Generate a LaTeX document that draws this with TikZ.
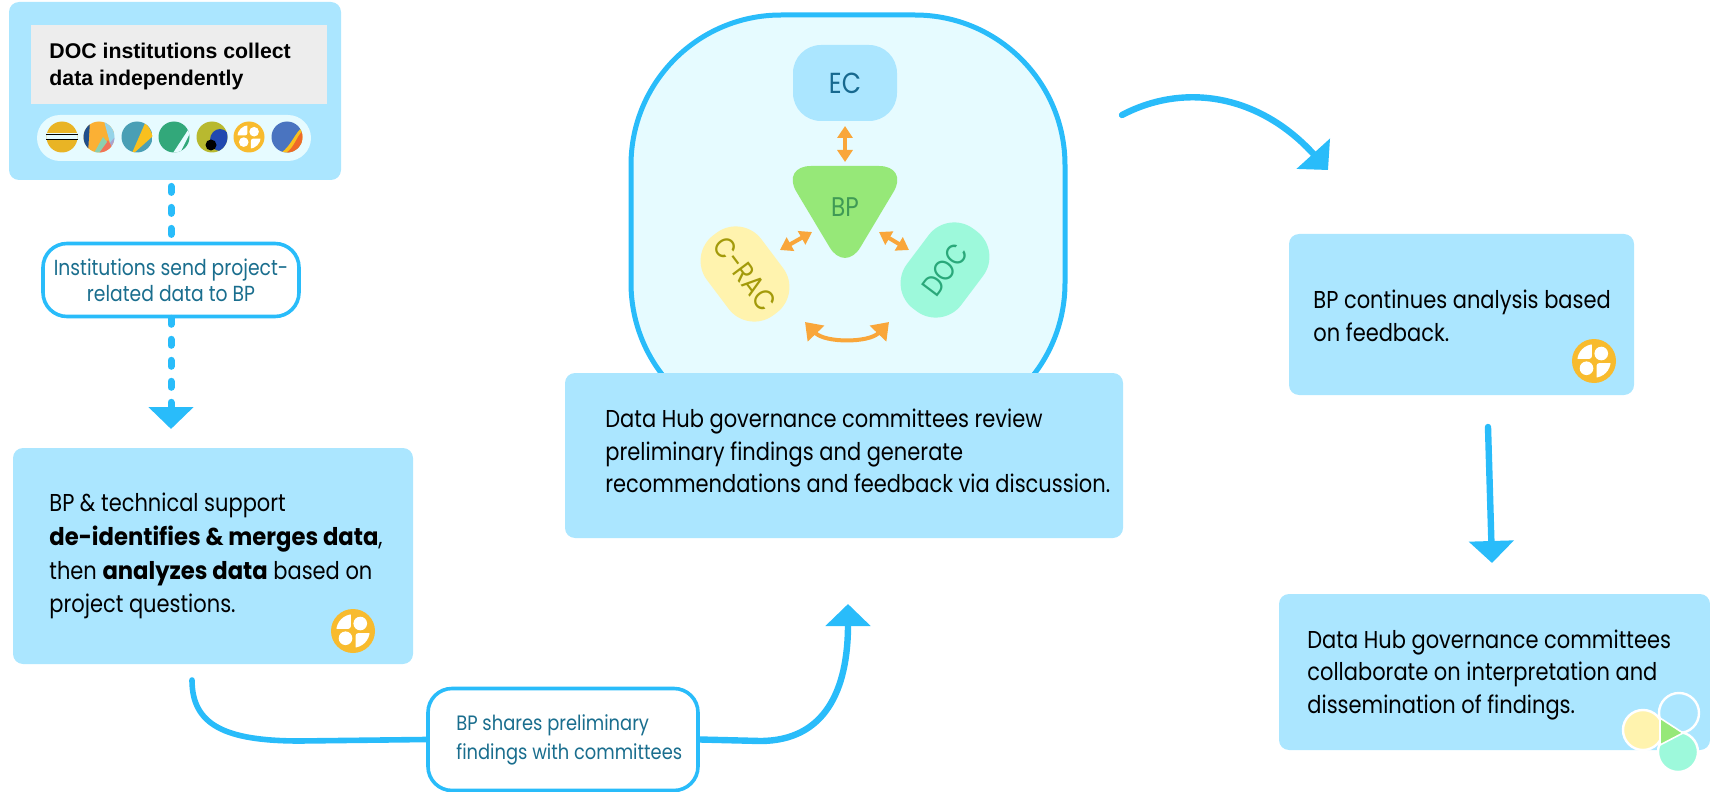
\documentclass[tikz,border=0pt]{standalone}
\usepackage{fontspec}
\setmainfont{Liberation Sans}
\newfontfamily\fu[FakeStretch=0.86,BoldFeatures={FakeStretch=0.93}]{Poppins}
\usetikzlibrary{arrows.meta}
\definecolor{boxblue}{HTML}{ABE6FF}
\definecolor{linblue}{HTML}{29BCFA}
\definecolor{pale}{HTML}{E6FBFF}
\definecolor{tealtx}{HTML}{1A6E8E}
\definecolor{orng}{HTML}{F9A63A}
\definecolor{ylw}{HTML}{F8BB2E}
\definecolor{yelbox}{HTML}{FFF3AE}
\definecolor{mint}{HTML}{9DF9DB}
\definecolor{grn}{HTML}{96E878}
\definecolor{iA}{HTML}{E9B425}
\definecolor{iB}{HTML}{FBB034}
\definecolor{iBn}{HTML}{1F4E8C}
\definecolor{iBl}{HTML}{96D4E8}
\definecolor{iBv}{HTML}{A9A3D0}
\definecolor{iBr}{HTML}{F0725A}
\definecolor{iBg}{HTML}{8CCFB0}
\definecolor{iC}{HTML}{4A9FB5}
\definecolor{iCy}{HTML}{F9C01E}
\definecolor{iD}{HTML}{32A87A}
\definecolor{iE}{HTML}{B8B92F}
\definecolor{iEb}{HTML}{2149B0}
\definecolor{iF}{HTML}{4A74C0}
\definecolor{iFo}{HTML}{EE6A28}
\definecolor{txec}{HTML}{17698F}
\definecolor{txbp}{HTML}{3F9A55}
\definecolor{txcr}{HTML}{A39A0A}
\definecolor{txdo}{HTML}{2AA87A}
\tikzset{
  bluebox/.style={rectangle,fill=boxblue,rounded corners=5pt,inner sep=0pt},
  outl/.style={rectangle,draw=linblue,line width=1.8pt,fill=white,rounded corners=12pt,inner sep=0pt},
  body/.style={anchor=west,align=left,inner sep=0pt,text=black,font=\fu\fontsize{12.2}{16.2}\selectfont},
  lab/.style={inner sep=0pt,align=center,text=tealtx,font=\fu\fontsize{10.4}{14.2}\selectfont},
  cnode/.style={rectangle,rounded corners=16pt,inner sep=0pt},
  ctext/.style={font=\fu\fontsize{14.5}{16}\selectfont},
  flow/.style={draw=linblue,line width=3.2pt,line cap=round,-{Triangle[length=11pt,width=22pt]}},
  oarrow/.style={draw=orng,line width=2pt,{Triangle[length=6pt,width=7.5pt]}-{Triangle[length=6pt,width=7.5pt]}},
  oarc/.style={draw=orng,line width=2pt,{Triangle[length=8pt,width=11pt]}-{Triangle[length=8pt,width=11pt]}},
}
\newcommand\clover[3]{%
  \begin{scope}[shift={(#1,#2)}]
    \fill[ylw] (0,0) circle (#3);
    \begin{scope}
      \clip (0,0) circle ({0.76*#3});
      \fill[white,rounded corners=1.2pt] ({-#3},{-#3}) rectangle ({-0.1*#3},{-0.1*#3});
      \fill[white,rounded corners=1.2pt] ({0.12*#3},{0.1*#3}) rectangle ({#3},{#3});
    \end{scope}
    \fill[white] ({0.33*#3},{-0.34*#3}) circle ({0.31*#3});
    \fill[white] ({-0.34*#3},{0.33*#3}) circle ({0.31*#3});
  \end{scope}}
\begin{document}
\begin{tikzpicture}[x=0.5pt,y=-0.5pt]
\useasboundingbox (0,0) rectangle (1710,792);
% top-left box
\node[bluebox,minimum width=166pt,minimum height=89pt] (box1) at (175,91) {};
\node[rectangle,fill=black!7,minimum width=148pt,minimum height=39.5pt,inner sep=0pt] (grey) at (179,64.5) {};
\node[anchor=west,align=left,inner sep=0pt,font=\bfseries\fontsize{10.65}{13.5}\selectfont] (t1) at (49,66) {DOC institutions collect\\data independently};
\node[rectangle,fill=pale,rounded corners=11.5pt,minimum width=137pt,minimum height=23pt,inner sep=0pt] (pill) at (174,138) {};
% institution icons
\begin{scope}
 \clip (62,137) circle (15.5);
 \fill[iA] (46,121) rectangle (78,153);
 \fill[pale] (46,133.5) rectangle (78,140.5);
\end{scope}
\draw[black,line width=0.8pt] (46,134.5) -- (78,134.5) (46,139.5) -- (78,139.5);
\begin{scope}
 \clip (99,137) circle (15.5);
 \fill[iB] (83,121) rectangle (115,153);
 \fill[iBn] (83,121) -- (90,121) -- (88,153) -- (83,153) -- cycle;
 \fill[iBl] (104,121) -- (115,121) -- (115,141) -- (110,143) -- cycle;
 \fill[iBv] (110,143) -- (115,137) -- (115,153) -- (112,150) -- cycle;
 \fill[iBr] (99,153) -- (108,140) -- (115,153) -- cycle;
 \fill[iBg] (94,153) -- (103,137) -- (107,142) -- (99,153) -- cycle;
\end{scope}
\begin{scope}
 \clip (137,137) circle (15.5);
 \fill[iC] (121,121) rectangle (153,153);
 \fill[iCy] (146,121) -- (153,136) -- (134,153) -- (132,153) -- cycle;
\end{scope}
\begin{scope}
 \clip (174,137) circle (15.5);
 \fill[iD] (158,121) rectangle (190,153);
 \fill[pale] (190,127) -- (190,133) -- (180,153) -- (173,153) -- cycle;
\end{scope}
\begin{scope}
 \clip (212,137) circle (15.5);
 \fill[iE] (196,121) rectangle (228,153);
 \fill[iEb] (220,140) ellipse (10 and 11);
\end{scope}
\fill[black] (211,145) circle (5.5);
\clover{249}{137}{15.5}
\begin{scope}
 \clip (287,137) circle (15.5);
 \fill[iF] (271,121) rectangle (303,153);
 \fill[iCy] (303,127) .. controls (295,132) and (292,145) .. (281,153) -- (303,153) -- cycle;
 \fill[iFo] (303,131) .. controls (297,135) and (295,147) .. (286,153) -- (303,153) -- cycle;
\end{scope}
% institutions label and dashed flow
\node[outl,minimum width=128pt,minimum height=36.5pt] (inst) at (171,280) {};
\node[lab,font=\fu\fontsize{10.9}{13}\selectfont] (instt) at (171,280) {Institutions send project-\\related data to BP};
\node[bluebox,minimum width=200pt,minimum height=108pt] (box2) at (213,556) {};
\node[body,font=\fu\fontsize{12.2}{16.9}\selectfont] (t2) at (49,556) {BP \& technical support\\\textbf{de-identifies \& merges data},\\then \textbf{analyzes data} based on\\project questions.};
\clover{353}{631}{22}
\coordinate (dtip) at (171,429);
\draw[draw=linblue,line width=3.5pt,line cap=round,dash pattern=on 3pt off 7.5pt,shorten <=3pt] (box1.south -| inst.north) -- (inst.north);
\draw[flow,line width=3.5pt,dash pattern=on 3pt off 7.5pt] (inst.south) -- (dtip);
% share label and lower connector
\node[outl,minimum width=135pt,minimum height=51pt] (share) at (563,739.5) {};
\node[lab,anchor=west,align=left] (sharet) at (456,740) {BP shares preliminary\\findings with committees};
\coordinate (sa) at (192,680);
\coordinate (sb) at (848,604);
\draw[draw=linblue,line width=2.8pt,line cap=round] (sa) .. controls (192,725) and (225,741) .. (300,741) -- (share.west);
\draw[flow] (share.east) -- (760,741) .. controls (825,741) and (848,690) .. (sb);
% large panel
\node[rectangle,draw=linblue,line width=2.5pt,fill=pale,rounded corners=75pt,minimum width=217pt,minimum height=209pt,inner sep=0pt] (panel) at (848,224) {};
\node[cnode,fill=boxblue,rounded corners=14pt,minimum width=52pt,minimum height=38pt] (ec) at (845,83) {};
\node[ctext,text=txec] (ect) at (845,83) {EC};
\fill[grn,rounded corners=15pt] (781,166) -- (909,166) -- (845,273) -- cycle;
\node[ctext,text=txbp,font=\fu\fontsize{13.5}{15}\selectfont] (bp) at (845,207) {BP};
\node[cnode,fill=yelbox,minimum width=50pt,minimum height=34pt,rotate=-53] (crac) at (745,274) {};
\node[ctext,text=txcr,rotate=-53] (cract) at (745,274) {C-RAC};
\node[cnode,fill=mint,minimum width=50pt,minimum height=34pt,rotate=53] (doc) at (945,270) {};
\node[ctext,text=txdo,rotate=53] (doct) at (945,270) {DOC};
\coordinate (bpT) at (845,162);
\coordinate (ecB) at (845,126);
\coordinate (bpL) at (812,232);
\coordinate (crA) at (780,250);
\coordinate (bpR) at (879,232);
\coordinate (doA) at (909,250);
\coordinate (crB) at (805,322);
\coordinate (doB) at (889,322);
\draw[oarrow] (ecB) -- (bpT);
\draw[oarrow] (crA) -- (bpL);
\draw[oarrow] (bpR) -- (doA);
\draw[oarc] (crB) .. controls (825,343) and (869,343) .. (doB);
% middle text box
\node[bluebox,minimum width=279pt,minimum height=82.5pt] (box3) at (844,455.5) {};
\node[body] (t3) at (605,451) {Data Hub governance committees review\\preliminary findings and generate\\recommendations and feedback via discussion.};
% top-right arrow
\coordinate (ra) at (1122,115);
\coordinate (rb) at (1328,170);
\draw[flow] (ra) .. controls (1185,82) and (1260,95) .. (rb);
% right boxes
\node[bluebox,minimum width=172.5pt,minimum height=80.5pt] (box4) at (1461.5,314.5) {};
\node[body] (t4) at (1313,316) {BP continues analysis based\\on feedback.};
\clover{1594}{361}{22}
\node[bluebox,minimum width=215.5pt,minimum height=78pt] (box5) at (1494.5,672) {};
\node[body] (t5) at (1307,675) {Data Hub governance committees\\collaborate on interpretation and\\dissemination of findings.};
\coordinate (da) at (1488,427);
\coordinate (db) at (1492,563);
\draw[flow] (da) -- (db);
% logo
\draw[white,line width=1.2pt,fill=yelbox] (1643,730) circle (20);
\draw[white,line width=1.2pt] (1679,713) circle (20);
\draw[white,line width=1.2pt,fill=mint] (1678,752) circle (20);
\draw[white,line width=0.8pt,fill=grn] (1660,718) -- (1683,733) -- (1660,745) -- cycle;
\end{tikzpicture}
\end{document}
